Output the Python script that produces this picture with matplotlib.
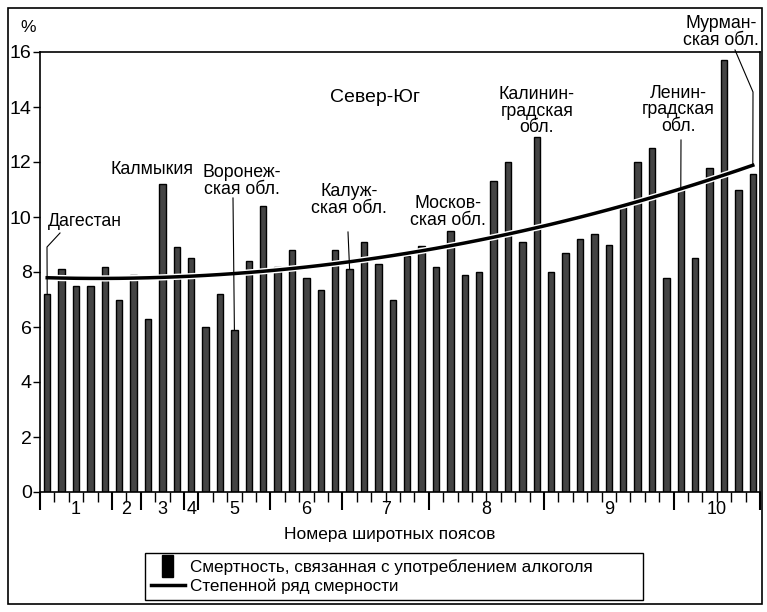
import numpy as np
import matplotlib.pyplot as plt
import matplotlib.patheffects as pe
from matplotlib.patches import Rectangle
from matplotlib.legend_handler import HandlerPatch

plt.rcParams['font.family'] = ['Liberation Sans', 'DejaVu Sans']

# alcohol-related mortality, % (one bar per region, south -> north)
values = [7.2, 8.1, 7.5, 7.5, 8.2, 7.0, 7.9, 6.3, 11.2, 8.9,
          8.5, 6.0, 7.2, 5.9, 8.4, 10.4, 8.2, 8.8, 7.8, 7.35,
          8.8, 8.1, 9.1, 8.3, 7.0, 8.6, 8.95, 8.2, 9.5, 7.9,
          8.0, 11.3, 12.0, 9.1, 12.9, 8.0, 8.7, 9.2, 9.4, 9.0,
          10.4, 12.0, 12.5, 7.8, 11.1, 8.5, 11.8, 15.7, 11.0, 11.55]

# latitude zones: number and how many bars belong to each
zone_labels = ['1', '2', '3', '4', '5', '6', '7', '8', '9', '10']
zone_sizes = [5, 2, 3, 1, 5, 5, 6, 8, 9, 6]

# labelled regions: (text, bar number)
notes = [('Дагестан', 1), ('Калмыкия', 9), ('Воронеж-\nская обл.', 14),
         ('Калуж-\nская обл.', 22), ('Москов-\nская обл.', 29),
         ('Калинин-\nградская\nобл.', 35), ('Ленин-\nградская\nобл.', 45),
         ('Мурман-\nская обл.', 50)]

x = np.arange(1, len(values) + 1)
W, H = 767, 612


def px(xp, yp):
    return (xp / W, 1 - yp / H)


fig = plt.figure(figsize=(W / 100, H / 100), dpi=100)
ax = fig.add_axes([40 / W, 1 - 492 / H, 720 / W, 440 / H])

bars = ax.bar(x, values, width=0.45, color='#444444', edgecolor='black', linewidth=1.0, zorder=2)

# polynomial ("power series") trend of the bars
coef = np.polyfit(x, values, 2)
trend = np.polyval(coef, x)
trend_line, = ax.plot(x, trend, color='black', linewidth=2.5, zorder=3,
                      path_effects=[pe.Stroke(linewidth=4.5, foreground='white'), pe.Normal()])

ax.set_xlim(0.5, len(values) + 0.5)
ax.set_ylim(0, 16)
ax.set_yticks(range(0, 17, 2))
ax.tick_params(axis='y', labelsize=14, length=5, width=1, pad=1)
for s in ax.spines.values():
    s.set_linewidth(1.2)

# x ticks: short at every bar boundary, long at zone boundaries
bounds = np.cumsum([0] + zone_sizes)
ax.set_xticks(np.arange(0.5, len(values) + 1, 1.0), minor=True)
ax.set_xticks(bounds + 0.5)
ax.set_xticklabels([])
ax.tick_params(axis='x', which='minor', length=7, width=1)
ax.tick_params(axis='x', which='major', length=13, width=1.5)
for i, lab in enumerate(zone_labels):
    cx = (bounds[i] + bounds[i + 1]) / 2 + 0.5
    ax.annotate(lab, (cx, 0), xytext=(0, -18), textcoords='offset pixels',
                ha='center', va='center', fontsize=13)
fig.text(*px(390, 534), 'Номера широтных поясов', ha='center', va='center', fontsize=12.5)

fig.text(*px(28, 28), '%', ha='center', va='center', fontsize=12.5)
fig.text(*px(375, 97), 'Север-Юг', fontsize=14, ha='center', va='center')

# annotation text centres in pixels (from the top-left corner)
fs = 12.8
txt_pos = {1: (85, 221), 9: (152, 170), 14: (242, 181), 22: (349, 200),
           29: (448, 212), 35: (537, 111), 45: (678, 110), 50: (721, 32)}

for text, n in notes:
    tx, ty = txt_pos[n]
    fig.text(*px(tx, ty), text, ha='center', va='center', fontsize=fs, linespacing=0.95)

# leader lines, drawn to the tops of the bars
to_data = ax.transData.inverted()


def d(xp, yp):
    return to_data.transform((xp, H - yp))


def leader(points, n, end=None):
    xs, ys = [], []
    for p in points:
        dx, dy = d(*p)
        xs.append(dx)
        ys.append(dy)
    xs.append(n)
    ys.append(values[n - 1] if end is None else end)
    ax.plot(xs, ys, color='black', linewidth=0.8, zorder=4, clip_on=False)


leader([(60, 233), (47, 247)], 1)
leader([(233, 198)], 14)
leader([(348, 232)], 22)
leader([(681, 140)], 45)
leader([(735, 50), (753, 92)], 50, end=trend[-1])


def narrow_bar(legend, orig_handle, xdescent, ydescent, width, height, fontsize):
    return Rectangle((-xdescent + width * 0.33, -ydescent - height * 0.45), width * 0.32, height * 1.9)


leg = fig.legend([bars.patches[0], trend_line],
                 ['Смертность, связанная с употреблением алкоголя', 'Степенной ряд смерности'],
                 handler_map={Rectangle: HandlerPatch(patch_func=narrow_bar)},
                 loc='lower left', bbox_to_anchor=(145 / W, 1 - 600 / H, 498 / W, 51 / H),
                 mode='expand', borderaxespad=0, fontsize=12.3, frameon=True,
                 fancybox=False, edgecolor='black', framealpha=1, handlelength=2.0,
                 handletextpad=0.3, labelspacing=0.2, borderpad=0.35)
leg.get_frame().set_linewidth(1.0)
leg.legend_handles[0].set_facecolor('black')
leg.legend_handles[1].set_path_effects([])

fig.patches.append(Rectangle(px(8, 604), 754 / W, 596 / H, transform=fig.transFigure,
                             fill=False, edgecolor='black', linewidth=1.2))

fig.savefig('out.png', dpi=100)
